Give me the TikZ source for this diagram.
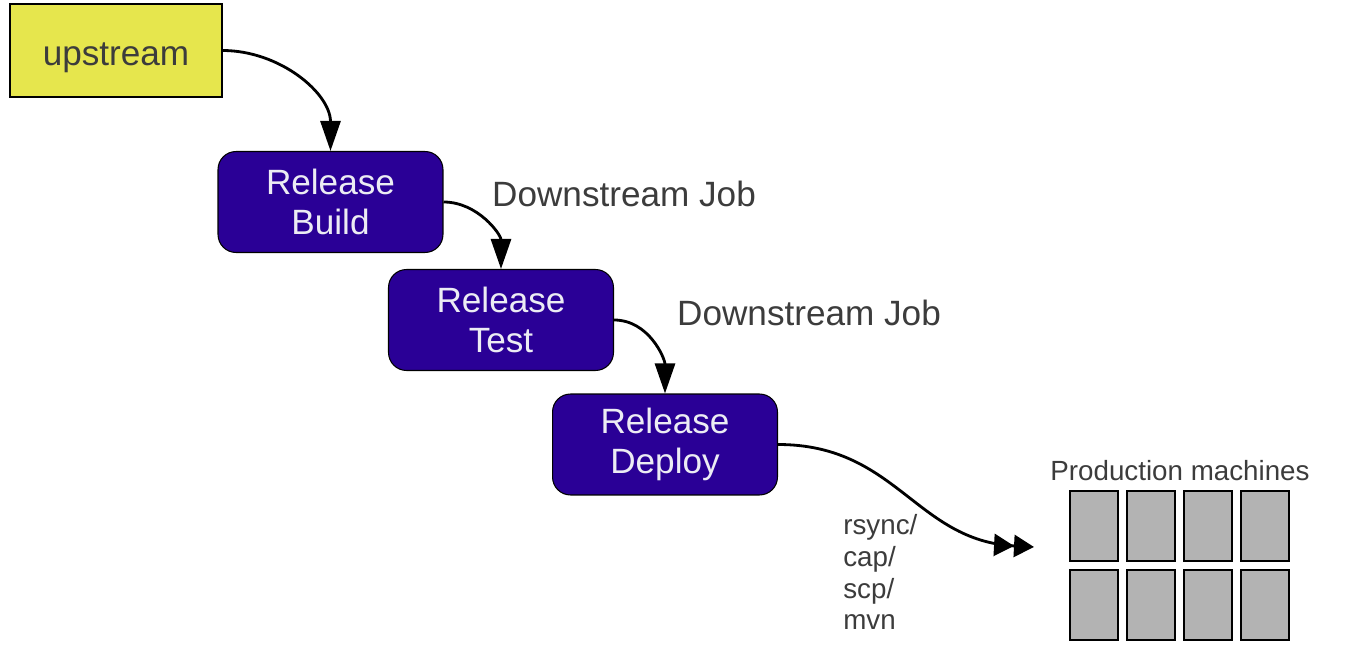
\documentclass[tikz,border=0pt]{standalone}
\usepackage{fontspec}
\setmainfont{Liberation Sans}
\usepackage{tikz}
\usetikzlibrary{arrows.meta, positioning}

\begin{document}
\begin{tikzpicture}[x=0.02cm, y=-0.02cm, >={Triangle[length=0.6cm, width=0.4cm]}]
    % Màu sắc
    \definecolor{upyellow}{RGB}{230, 230, 77}
    \definecolor{jobpurple}{RGB}{42, 0, 150}
    \definecolor{machgray}{RGB}{179, 179, 179}
    \definecolor{textgray}{RGB}{60, 60, 60}
    \definecolor{jobtext}{RGB}{236, 236, 244}

    \tikzset{
        upbox/.style={draw, line width=0.6pt, fill=upyellow, text=textgray,
            minimum width=4.24cm, minimum height=1.86cm, text height=17pt, text depth=0pt,
            font=\fontsize{20}{24}\selectfont},
        jobbox/.style={draw, line width=0.6pt, fill=jobpurple, text=jobtext, rounded corners=0.36cm,
            minimum width=4.5cm, minimum height=2.02cm, align=center,
            font=\fontsize{20}{23}\selectfont},
        joblabel/.style={anchor=west, text=textgray, font=\fontsize{20}{24}\selectfont},
        smalllabel/.style={text=textgray, font=\fontsize{15.8}{18}\selectfont},
        machbox/.style={draw, line width=0.6pt, fill=machgray, minimum width=0.96cm,
            minimum height=1.4cm, inner sep=0pt},
        flow/.style={->, line width=1.6pt}
    }

    \useasboundingbox (0,0) rectangle (1363,651);

    % 1. Các khối công việc
    \node[upbox] (up) at (116,50.5) {upstream};
    \node[jobbox] (build) at (330.5,202) {Release\\Build};
    \node[jobbox] (test) at (501,320) {Release\\Test};
    \node[jobbox] (deploy) at (665,444.5) {Release\\Deploy};

    % 2. Nhãn Downstream Job
    \node[joblabel] (dj1) at (486,194) {Downstream Job};
    \node[joblabel] (dj2) at (671,313) {Downstream Job};

    % 3. Các máy production
    \node[smalllabel] (prodlabel) at (1180,471) {Production machines};
    \foreach \i in {0,...,3}
        \foreach \j in {0,1}
            \node[machbox] (m\i\j) at ({1094+57*\i},{526+79*\j}) {};

    % 4. Các mũi tên
    \draw[flow] (up.east) to[out=0, in=90] (build.north);
    \draw[flow] (build.east) to[out=0, in=90] (test.north);
    \draw[flow] (test.east) to[out=0, in=90] (deploy.north);
    \coordinate (feed) at (1034,547);
    \draw[line width=1.6pt, -{Triangle[length=0.4cm, width=0.44cm] Triangle[length=0.4cm, width=0.44cm]}]
        (deploy.east) to[out=0, in=177, looseness=1.1] (feed);

    % 5. Nhãn phương thức triển khai
    \node[smalllabel, anchor=north west, align=left, inner sep=0pt,
        font=\fontsize{15.8}{18.1}\selectfont] (tools) at (843,514) {rsync/\\cap/\\scp/\\mvn};
\end{tikzpicture}
\end{document}
